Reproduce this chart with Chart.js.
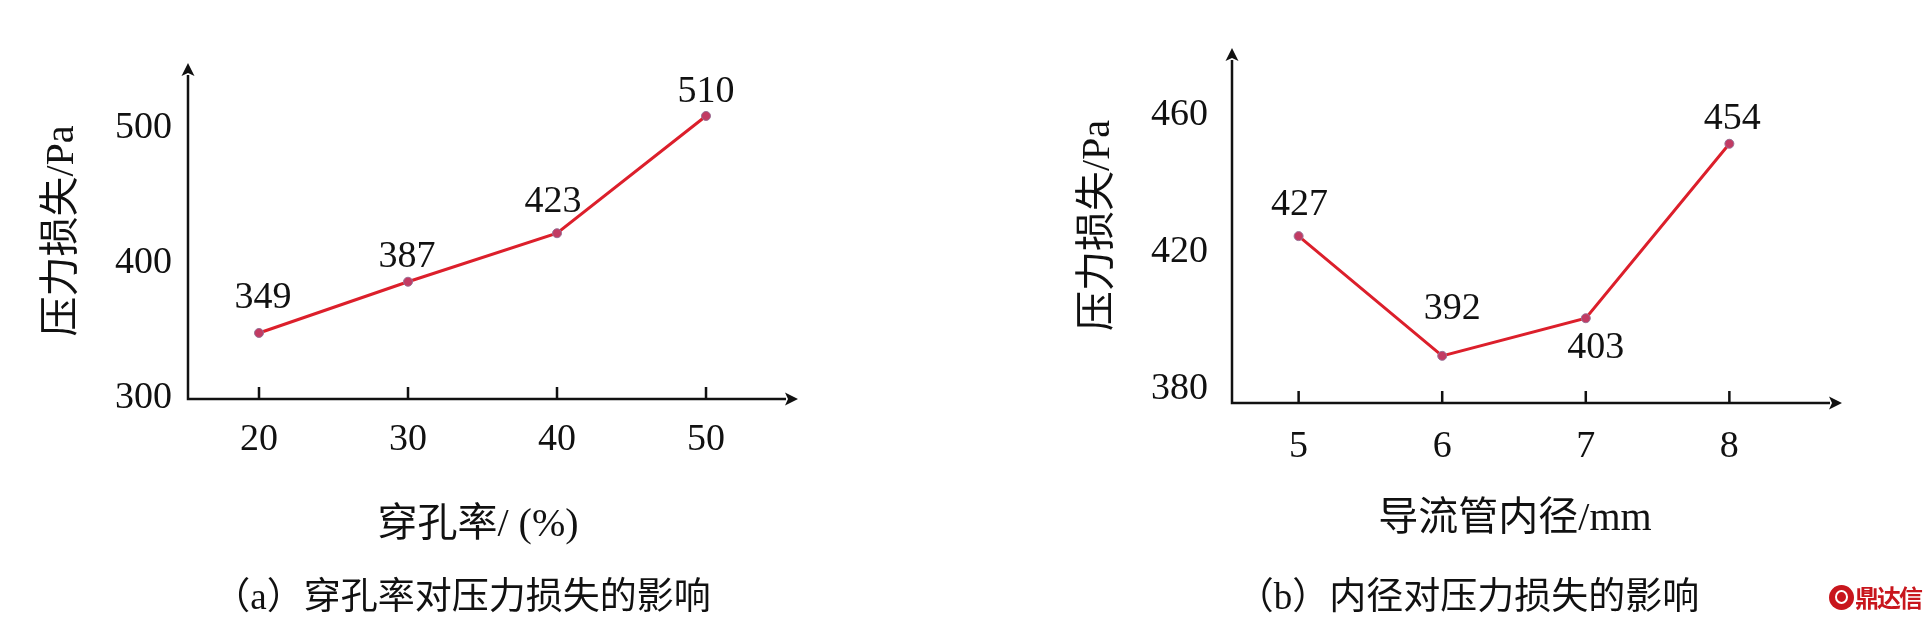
<!DOCTYPE html>
<html>
<head>
<meta charset="utf-8">
<script src="https://cdn.jsdelivr.net/npm/chart.js@4.4.1/dist/chart.umd.min.js"></script>
<style>
html,body{margin:0;padding:0;background:#fff;width:1929px;height:618px;overflow:hidden;}
#wrapA{position:absolute;left:0;top:0;width:965px;height:618px;}
#wrapB{position:absolute;left:965px;top:0;width:964px;height:618px;}
.cap{position:absolute;top:575px;height:44px;line-height:44px;font-family:"Liberation Serif","Noto Sans CJK SC",serif;font-size:37px;color:#111;white-space:nowrap;transform:translateX(-50%);}
#logo{position:absolute;left:1829px;top:584px;height:26px;display:flex;align-items:center;}
#logo .dot{width:25px;height:25px;border-radius:50%;background:#c8161d;position:relative;}
#logo .dot::after{content:"";position:absolute;left:6px;top:5px;width:9px;height:10px;border:2px solid #fff;border-radius:50%;}
#logo .txt{font:bold 24px "Noto Sans CJK SC",sans-serif;color:#c8161d;margin-left:1px;letter-spacing:-2px;line-height:26px;}
</style>
</head>
<body>
<div id="wrapA"><canvas id="cA" width="965" height="618"></canvas></div>
<div id="wrapB"><canvas id="cB" width="964" height="618"></canvas></div>
<div class="cap" style="left:462px">（a）穿孔率对压力损失的影响</div>
<div class="cap" style="left:1468px">（b）内径对压力损失的影响</div>
<div id="logo"><span class="dot"></span><span class="txt">鼎达信</span></div>
<script>
// ---- data ----
const porosity = [20, 30, 40, 50];          // 穿孔率 /(%)
const lossA = [349, 387, 423, 510];          // 压力损失 /Pa
const yTicksA = [300, 400, 500];

const diameter = [5, 6, 7, 8];               // 导流管内径 /mm
const lossB = [427, 392, 403, 454];          // 压力损失 /Pa
const yTicksB = [380, 420, 460];

const xTitleA = '穿孔率/ (%)';
const xTitleB = '导流管内径/mm';
const yTitle = '压力损失/Pa';

// ---- styling ----
const SERIF = '"Liberation Serif", "Noto Sans CJK SC", serif';
const INK = '#111';

const axesArrows = {
  id: 'axesArrows',
  beforeDatasetsDraw(chart, args, o) {
    const {ctx, chartArea: a} = chart;
    const xs = chart.scales.x;
    const lw = o.lineWidth, head = o.head, hw = o.headWidth / 2;
    const xEnd = a.right + o.ext;
    ctx.save();
    ctx.strokeStyle = o.color; ctx.fillStyle = o.color; ctx.lineWidth = lw;
    ctx.beginPath();
    ctx.moveTo(a.left, a.bottom + lw / 2);
    ctx.lineTo(a.left, a.top + head - 1);
    ctx.moveTo(a.left - lw / 2, a.bottom);
    ctx.lineTo(xEnd - head + 1, a.bottom);
    xs.ticks.forEach(t => {
      const px = xs.getPixelForValue(t.value);
      ctx.moveTo(px, a.bottom);
      ctx.lineTo(px, a.bottom - o.tickLen);
    });
    ctx.stroke();
    ctx.beginPath();
    ctx.moveTo(a.left, a.top);
    ctx.lineTo(a.left - hw, a.top + head);
    ctx.lineTo(a.left, a.top + head - 3);
    ctx.lineTo(a.left + hw, a.top + head);
    ctx.closePath();
    ctx.moveTo(xEnd, a.bottom);
    ctx.lineTo(xEnd - head, a.bottom - hw);
    ctx.lineTo(xEnd - head + 3, a.bottom);
    ctx.lineTo(xEnd - head, a.bottom + hw);
    ctx.closePath();
    ctx.fill();
    ctx.restore();
  }
};

const valueLabels = {
  id: 'valueLabels',
  afterDatasetsDraw(chart, args, o) {
    const ctx = chart.ctx;
    const meta = chart.getDatasetMeta(0);
    const ds = chart.data.datasets[0];
    ctx.save();
    ctx.font = o.font;
    ctx.fillStyle = o.color;
    ctx.textAlign = 'center';
    ctx.textBaseline = 'middle';
    meta.data.forEach((pt, i) => {
      ctx.fillText(String(ds.data[i].y), pt.x + o.dx[i], pt.y + o.dy[i]);
    });
    ctx.restore();
  }
};

function makeChart(id, xs, ys, xTicks, yTicks, cfg) {
  return new Chart(document.getElementById(id), {
    type: 'line',
    data: {
      datasets: [{
        data: xs.map((x, i) => ({x: x, y: ys[i]})),
        borderColor: '#dc1f2b',
        borderWidth: 3,
        tension: 0,
        fill: false,
        pointRadius: 4.5,
        pointBackgroundColor: '#c23b63',
        pointBorderColor: '#9a7095',
        pointBorderWidth: 1,
        clip: false
      }]
    },
    options: {
      responsive: false,
      devicePixelRatio: 1,
      animation: false,
      events: [],
      layout: {padding: cfg.padding},
      plugins: {
        legend: {display: false},
        tooltip: {enabled: false},
        axesArrows: {color: INK, lineWidth: 2.5, head: 13, headWidth: 13, tickLen: 12, ext: cfg.ext},
        valueLabels: {font: '38px "Liberation Serif"', color: INK, dx: cfg.dx, dy: cfg.dy}
      },
      scales: {
        x: {
          type: 'linear',
          min: cfg.xMin, max: cfg.xMax,
          afterBuildTicks: s => { s.ticks = xTicks.map(v => ({value: v})); },
          afterFit: s => { s.height = 150; },
          grid: {display: false, drawTicks: false},
          border: {display: false},
          ticks: {color: INK, font: {family: SERIF, size: 38}, padding: cfg.xTickPad, maxRotation: 0, autoSkip: false},
          title: {display: true, text: cfg.xTitle, color: INK, font: {family: SERIF, size: 40}, padding: {top: 0, bottom: cfg.xTitlePad}}
        },
        y: {
          type: 'linear',
          min: cfg.yMin, max: cfg.yMax,
          afterBuildTicks: s => { s.ticks = yTicks.map(v => ({value: v})); },
          afterFit: s => { s.width = cfg.yWidth; },
          grid: {display: false, drawTicks: false},
          border: {display: false},
          ticks: {color: INK, font: {family: SERIF, size: 38}, padding: cfg.yTickPad, labelOffset: cfg.yLabelOffset, autoSkip: false},
          title: {display: true, text: yTitle, color: INK, font: {family: SERIF, size: 40}, padding: {top: cfg.yTitlePad, bottom: 0}}
        }
      }
    },
    plugins: [axesArrows, valueLabels]
  });
}

makeChart('cA', porosity, lossA, porosity, yTicksA, {
  padding: {left: 30, top: 63, right: 197, bottom: 69},
  xMin: 15.235, xMax: 54.16, yMin: 300, yMax: 549.3,
  yWidth: 158, yTickPad: 16, yTitlePad: 8, yLabelOffset: -1,
  xTickPad: 18, xTitlePad: 0, xTitle: xTitleA, ext: 30,
  dx: [4, -1, -4, 0], dy: [-35, -25, -31, -24]
});

makeChart('cB', diameter, lossB, diameter, yTicksB, {
  padding: {left: 90, top: 48, right: 131, bottom: 65},
  xMin: 4.536, xMax: 8.478, yMin: 378.22, yMax: 481.99,
  yWidth: 177, yTickPad: 24, yTitlePad: 19, yLabelOffset: -8,
  xTickPad: 21, xTitlePad: 10, xTitle: xTitleB, ext: 44,
  dx: [1, 10, 10, 3], dy: [-31, -47, 30, -25]
});
</script>
</body>
</html>
